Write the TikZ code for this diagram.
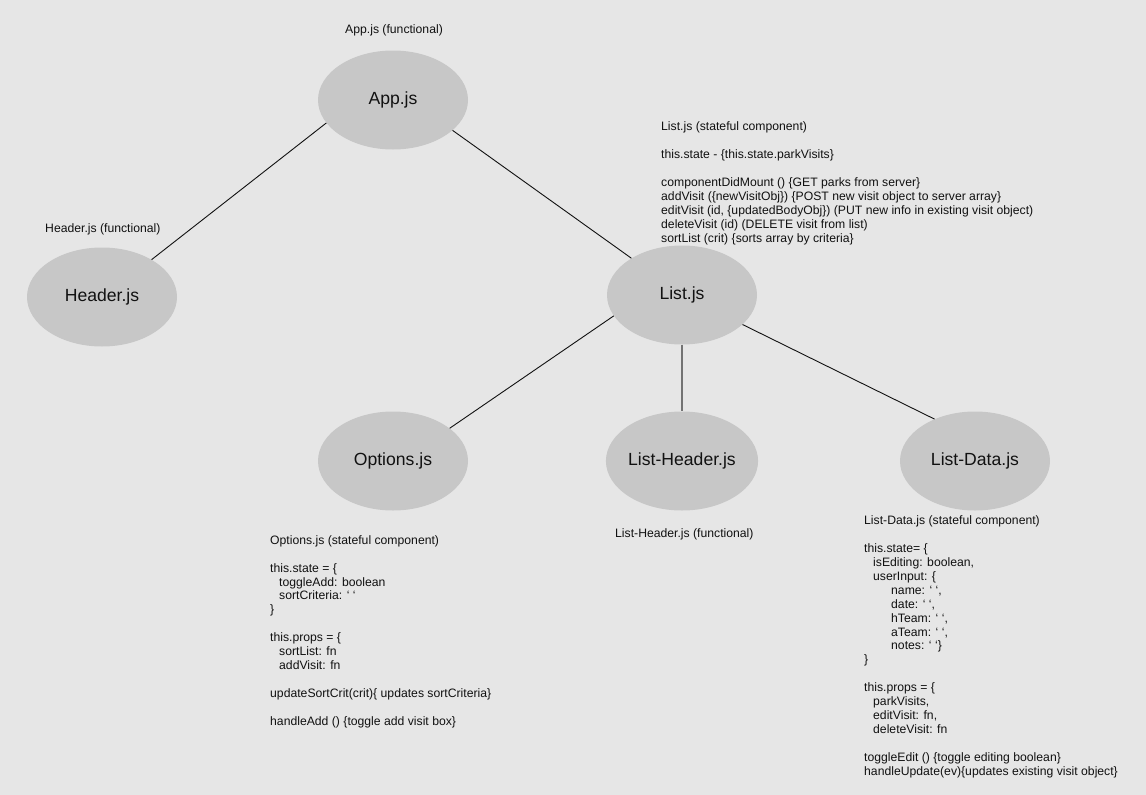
\documentclass[tikz,border=0pt]{standalone}
\usepackage{fontspec}
\setmainfont{Liberation Sans}
\usetikzlibrary{shapes.geometric}
\definecolor{canvas}{HTML}{E6E6E6}
\definecolor{bubble}{HTML}{C7C7C7}
\definecolor{ink}{HTML}{111111}
\newcommand{\ind}{\hspace*{9pt}}
\newcommand{\indd}{\hspace*{27pt}}
\begin{document}
\begin{tikzpicture}[x=1pt,y=-1pt,
  comp/.style={ellipse, fill=bubble, minimum width=150pt, minimum height=99pt,
    inner sep=0pt, text=ink, font=\fontsize{17.6}{20}\selectfont},
  % notes are anchored at the baseline of their last line
  note/.style={anchor=base west, inner sep=0pt, align=left, text=ink,
    font=\fontsize{12.2}{13.9}\selectfont},
  link/.style={draw=ink, line width=0.9pt}]
\fill[canvas] (0,0) rectangle (1146,795);
\useasboundingbox (0,0) rectangle (1146,795);

% component bubbles
\node[comp] (app)    at (393,100) {App.js};
\node[comp] (header) at (102,297) {Header.js};
\node[comp] (list)   at (682,295) {List.js};
\node[comp] (opts)   at (393,461) {Options.js};
\node[comp] (lhead)  at (682,461) {List-Header.js};
\node[comp] (ldata)  at (975,461) {List-Data.js};

% hierarchy links
\draw[link] (app.199) -- (header.37);
\draw[link] (app.333) -- (list.144);
\draw[link] (list.197) -- (opts.30);
\draw[draw=gray!90!black, line width=1.4pt] (list.south) -- (lhead.north);
\draw[link] (list.334) -- (ldata.134);

% component notes
\node[note] (appnote) at (345,34) {App.js (functional)};
\node[note] (headernote) at (45,232) {Header.js (functional)};
\node[note] (lheadnote) at (615,537) {List-Header.js (functional)};

\node[note] (listnote) at (661,242) {List.js (stateful component)\\
\mbox{}\\
this.state - \{this.state.parkVisits\}\\
\mbox{}\\
componentDidMount () \{GET parks from server\}\\
addVisit (\{newVisitObj\}) \{POST new visit object to server array\}\\
editVisit (id, \{updatedBodyObj\}) (PUT new info in existing visit object)\\
deleteVisit (id) (DELETE visit from list)\\
sortList (crit) \{sorts array by criteria\}};

\node[note] (optsnote) at (270,725) {Options.js (stateful component)\\
\mbox{}\\
this.state = \{\\
\ind toggleAdd: boolean\\
\ind sortCriteria: ‘ ‘\\
\}\\
\mbox{}\\
this.props = \{\\
\ind sortList: fn\\
\ind addVisit: fn\\
\mbox{}\\
updateSortCrit(crit)\{ updates sortCriteria\}\\
\mbox{}\\
handleAdd () \{toggle add visit box\}};

\node[note] (ldatanote) at (864,775) {List-Data.js (stateful component)\\
\mbox{}\\
this.state= \{\\
\ind isEditing: boolean,\\
\ind userInput: \{\\
\indd name: ‘ ‘,\\
\indd date: ‘ ‘,\\
\indd hTeam: ‘ ‘,\\
\indd aTeam: ‘ ‘,\\
\indd notes: ‘ ‘\}\\
\}\\
\mbox{}\\
this.props = \{\\
\ind parkVisits,\\
\ind editVisit: fn,\\
\ind deleteVisit: fn\\
\mbox{}\\
toggleEdit () \{toggle editing boolean\}\\
handleUpdate(ev)\{updates existing visit object\}};
\end{tikzpicture}
\end{document}
